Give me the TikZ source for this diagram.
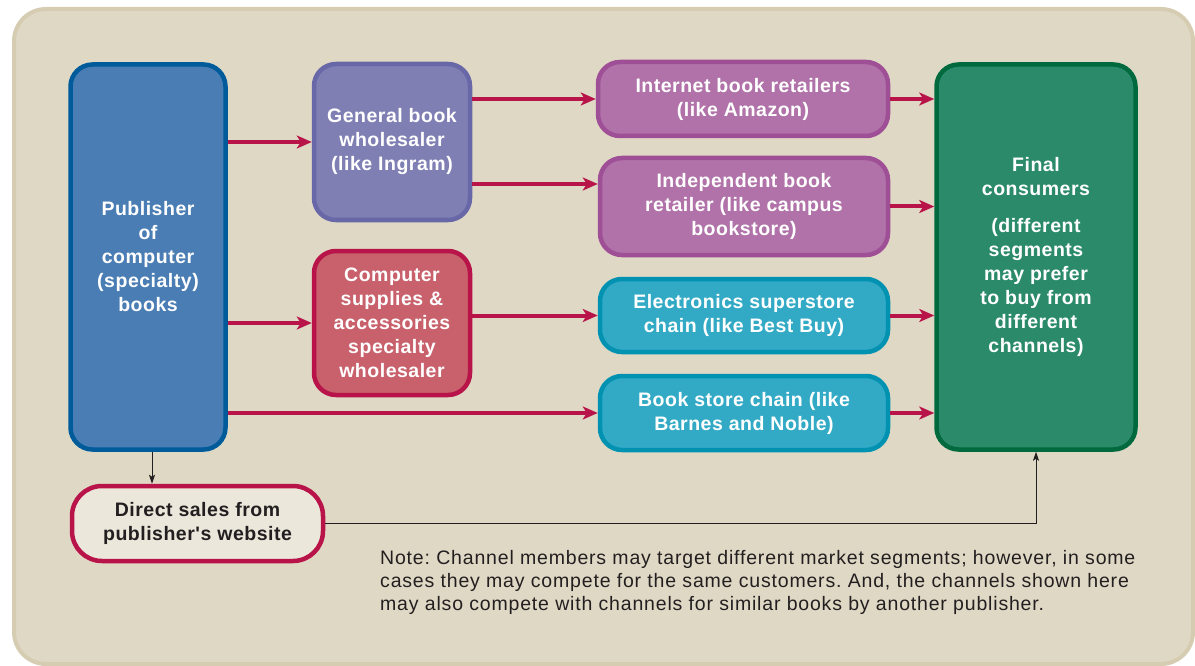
\documentclass[tikz,border=0pt]{standalone}
\usepackage{fontspec}
\setmainfont{Liberation Sans}
\newfontfamily\boxfont{Liberation Sans}[LetterSpace=2.6]
\newfontfamily\notefont{Liberation Sans}[LetterSpace=4.2]
\usetikzlibrary{arrows.meta,calc}
\definecolor{bgfill}{HTML}{DFD8C5}
\definecolor{bgedge}{HTML}{D5CCB2}
\definecolor{pubfill}{HTML}{4A7DB4}
\definecolor{pubedge}{HTML}{005B9A}
\definecolor{genfill}{HTML}{7F7FB4}
\definecolor{genedge}{HTML}{6868A8}
\definecolor{compfill}{HTML}{C8616B}
\definecolor{crimson}{HTML}{B8144A}
\definecolor{purfill}{HTML}{B072A8}
\definecolor{puredge}{HTML}{9E4F96}
\definecolor{cyanfill}{HTML}{33AAC5}
\definecolor{cyanedge}{HTML}{0092B0}
\definecolor{grnfill}{HTML}{2A8A6A}
\definecolor{grnedge}{HTML}{006A3E}
\definecolor{dirfill}{HTML}{ECE7DB}
\definecolor{txtdark}{HTML}{231F20}
\tikzset{
  box/.style={rounded corners=22pt, line width=4.5pt, align=center, text=white,
    font=\boxfont\bfseries\fontsize{19.5}{24}\selectfont, inner sep=0pt},
  arr/.style={draw=crimson, line width=4pt, -{Stealth[length=15pt,width=13pt,inset=4pt]}},
  thin/.style={draw=txtdark, line width=1pt, -{Stealth[length=9pt,width=6pt,inset=2pt]}},
}
\begin{document}
\frenchspacing
\begin{tikzpicture}[x=1pt,y=-1pt]
\useasboundingbox (0,0) rectangle (1195,666);
\draw[fill=bgfill, draw=bgedge, line width=4pt, rounded corners=32pt] (14,9) rectangle (1193,664);

\node[box, fill=pubfill, draw=pubedge, minimum width=155pt, minimum height=385pt] (pub) at (148,257)
  {Publisher\\of\\computer\\(specialty)\\books};
\node[box, fill=genfill, draw=genedge, minimum width=156pt, minimum height=156pt] (gen) at (392,142)
  {General book\\wholesaler\\(like Ingram)};
\node[box, fill=compfill, draw=crimson, minimum width=156pt, minimum height=144pt] (comp) at (392,323)
  {Computer\\supplies \&\\accessories\\specialty\\wholesaler};
\node[box, fill=purfill, draw=puredge, minimum width=290pt, minimum height=74pt] (inet) at (743,99)
  {Internet book retailers\\(like Amazon)};
\node[box, fill=purfill, draw=puredge, minimum width=288pt, minimum height=97pt] (indep) at (744,206.5)
  {Independent book\\retailer (like campus\\bookstore)};
\node[box, fill=cyanfill, draw=cyanedge, minimum width=288pt, minimum height=73pt] (elec) at (744,315.5)
  {Electronics superstore\\chain (like Best Buy)};
\node[box, fill=cyanfill, draw=cyanedge, minimum width=288pt, minimum height=74pt] (bsc) at (744,413)
  {Book store chain (like\\Barnes and Noble)};
\node[box, fill=grnfill, draw=grnedge, minimum width=199pt, minimum height=385pt] (fin) at (1036,257)
  {Final\\consumers\\[13pt](different\\segments\\may prefer\\to buy from\\different\\channels)};
\node[box, rounded corners=30pt, fill=dirfill, draw=crimson, text=txtdark, minimum width=251pt, minimum height=75pt] (dir) at (197.5,523.5)
  {Direct sales from\\publisher{\char"27}s website};

\node[anchor=north west, align=left, text=txtdark, inner sep=0pt,
  font=\notefont\fontsize{19.5}{23}\selectfont] (note) at (380,550)
  {Note: Channel members may target different market segments; however, in some\\
   cases they may compete for the same customers. And, the channels shown here\\
   may also compete with channels for similar books by another publisher.};

\draw[arr] (pub.east |- gen.west) -- (gen.west);
\draw[arr] (pub.east |- comp.west) -- (comp.west);
\draw[arr] (pub.east |- bsc.west) -- (bsc.west);
\draw[arr] (gen.east |- inet.west) -- (inet.west);
\draw[arr] ([yshift=-42pt]gen.east) -- ([yshift=-42pt]gen.east -| indep.west);
\draw[arr] (comp.east |- elec.west) -- (elec.west);
\draw[arr] (inet.east) -- (inet.east -| fin.west);
\draw[arr] (indep.east) -- (indep.east -| fin.west);
\draw[arr] (elec.east) -- (elec.east -| fin.west);
\draw[arr] (bsc.east) -- (bsc.east -| fin.west);

\draw[thin] ([xshift=4pt]pub.south) -- ([xshift=4pt]pub.south |- dir.north);
\draw[thin] (dir.east) -| (fin.south);
\end{tikzpicture}
\end{document}
